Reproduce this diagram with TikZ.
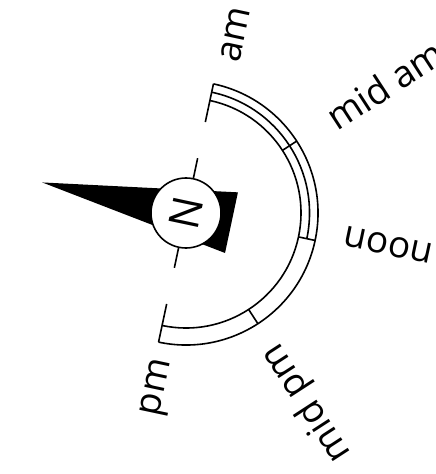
\documentclass[tikz,border=0pt]{standalone}
\usepackage{fontspec}
\setmainfont{Open Sans}
\usepackage{tikz}
\newdimen\unitsize
\setlength{\unitsize}{1pt}

\begin{document}
\begin{tikzpicture}[x=\unitsize,y=\unitsize]
\tikzset{track/.style={line width=1.6pt}}%
\tikzset{hour/.style={font=\fontsize{37}{44}\selectfont, inner sep=0pt}}%
\useasboundingbox (-186,-261) rectangle (250,213);
\begin{scope}[rotate=78]
% north arrow
\fill (0,147) -- (31,-46.5) -- (-31,-46.5) -- cycle;
\node (north) [circle, draw, line width=1.6pt, fill=white, minimum size=70pt, inner sep=0pt, rotate=78, font=\fontsize{42}{50}\selectfont] at (0,0) {N};
\coordinate (east) at (56,0);
\coordinate (west) at (-56,0);
\draw[track] (north.east) -- (east);
\draw[track] (north.west) -- (west);
% sun path
\draw[track] (0:132) arc[start angle=0, end angle=-180, radius=132];
\draw[track] (0:123.5) arc[start angle=0, end angle=-90, radius=123.5];
\draw[track] (0:115) arc[start angle=0, end angle=-180, radius=115];
\draw[track] (0:93) -- (0:132);
\draw[track] (-45:115) -- (-45:132);
\draw[track] (-90:115) -- (-90:132);
\draw[track] (-135:115) -- (-135:132);
\draw[track] (180:93) -- (180:132);
% times
\node[hour, rotate=78] (am) at (-3.5:185) {am};
\node[hour, rotate=33] (midam) at (-45.2:237) {mid am};
\node[hour, rotate=168] (noon) at (-87:205) {noon};
\node[hour, rotate=123] (midpm) at (-135.5:225) {mid pm};
\node[hour, rotate=78] (pm) at (-176.8:177) {pm};
\end{scope}
\end{tikzpicture}
\end{document}
